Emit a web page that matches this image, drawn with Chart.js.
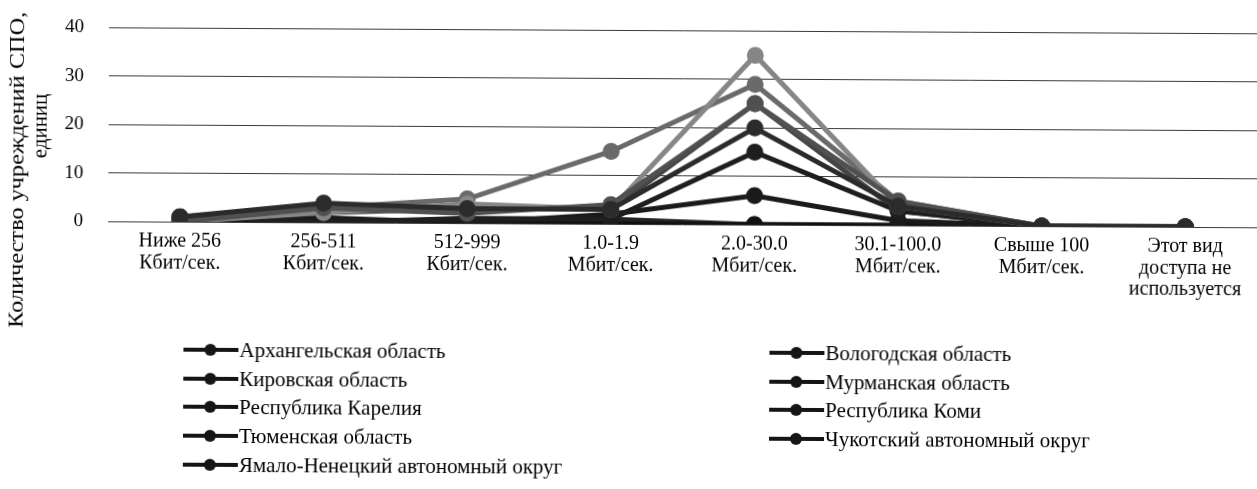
<!DOCTYPE html>
<html><head><meta charset="utf-8">
<script src="https://cdn.jsdelivr.net/npm/chart.js@4"></script>
<style>
html,body{margin:0;padding:0;background:#fff;overflow:hidden;}
#wrap{position:relative;width:1257px;height:489px;overflow:hidden;transform:rotate(0.3deg);transform-origin:628px 244px;}
#c{position:absolute;left:0;top:0;}
#legend{position:absolute;left:0;top:0;width:1257px;height:489px;pointer-events:none;font-family:"Liberation Serif","Times New Roman",serif;font-size:21px;color:#000;}
.item{position:absolute;display:flex;align-items:center;height:24px;white-space:nowrap;}
.mk{position:relative;width:55px;height:24px;flex:none;margin-right:1px;}
.mk .ln{position:absolute;left:0;right:0;top:10px;height:4px;background:#151515;}
.mk .dot{position:absolute;left:21px;top:6px;width:12px;height:12px;border-radius:50%;background:#151515;}
</style></head>
<body>
<div id="wrap"><canvas id="c" width="1268" height="489"></canvas><div id="legend"></div></div>
<script>
const categories = [
  ["Ниже 256","Кбит/сек."],
  ["256-511","Кбит/сек."],
  ["512-999","Кбит/сек."],
  ["1.0-1.9","Мбит/сек."],
  ["2.0-30.0","Мбит/сек."],
  ["30.1-100.0","Мбит/сек."],
  ["Свыше 100","Мбит/сек."],
  ["Этот вид","доступа не","используется"]
];
const yTicks = [0, 10, 20, 30, 40];
const yTitle = ["Количество учреждений СПО,", "единиц"];

const seriesNames = [
  "Архангельская область",
  "Вологодская область",
  "Кировская область",
  "Мурманская область",
  "Республика Карелия",
  "Республика Коми",
  "Тюменская область",
  "Чукотский автономный округ",
  "Ямало-Ненецкий автономный округ"
];
const arkhangelsk = [1, 4, 3, 3, 20, 4, 0, 0];
const vologda     = [0, 3, 2, 4, 25, 5, 0, 0];
const kirov       = [0, 2, 4, 3, 35, 4, 0, 0];
const murmansk    = [1, 0, 1, 1, 15, 3, 0, 0];
const karelia     = [0, 1, 0, 2, 6, 1, 0, 0];
const komi        = [1, 3, 5, 15, 29, 5, 0, 0];
const tyumen      = [0, 2, 3, 3, 25, 3, 0, 0];
const chukotka    = [0, 0, 0, 0, 0, 0, 0, 0];
const yanao       = [0, 0, 0, 1, 0, 0, 0, 0];
const seriesValues = [arkhangelsk, vologda, kirov, murmansk, karelia, komi, tyumen, chukotka, yanao];
const seriesColors = ["#2b2b2b","#505050","#868686","#1e1e1e","#1a1a1a","#6a6a6a","#444444","#111111","#222222"];

const FONT = "'Liberation Serif','Times New Roman',serif";

const datasets = seriesNames.map((name, i) => ({
  label: name,
  data: seriesValues[i],
  borderColor: seriesColors[i],
  backgroundColor: seriesColors[i],
  pointBackgroundColor: seriesColors[i],
  pointBorderColor: seriesColors[i],
  borderWidth: 5,
  pointRadius: 6,
  pointHoverRadius: 6,
  tension: 0,
  fill: false
}));

const titlePlugin = {
  id: 'ytitle',
  afterDraw(chart) {
    const ctx = chart.ctx;
    ctx.save();
    ctx.fillStyle = '#000';
    ctx.font = "21px " + FONT;
    ctx.textAlign = 'center';
    ctx.textBaseline = 'middle';
    const specs = [{ x: 17, y: 173, len: 316 }, { x: 40, y: 129, len: null }];
    yTitle.forEach((t, i) => {
      const s = specs[i];
      ctx.save();
      ctx.translate(s.x, s.y);
      ctx.rotate(-Math.PI / 2);
      if (s.len) {
        const w = ctx.measureText(t).width;
        ctx.scale(s.len / w, 1);
      }
      ctx.fillText(t, 0, 0);
      ctx.restore();
    });
    ctx.restore();
  }
};

function zeroPad(scale) {
  scale.paddingTop = 0; scale.paddingBottom = 0; scale.paddingLeft = 0; scale.paddingRight = 0;
}

const chart = new Chart(document.getElementById('c'), {
  type: 'line',
  data: { labels: categories, datasets },
  options: {
    responsive: false,
    animation: false,
    devicePixelRatio: 1,
    layout: { padding: { top: 30.5, left: 0, right: 0, bottom: 0 } },
    plugins: { legend: { display: false }, tooltip: { enabled: false } },
    scales: {
      x: {
        offset: true,
        grid: { display: false, drawTicks: false },
        border: { display: false },
        ticks: { color: '#000', font: { family: FONT, size: 20, lineHeight: 1.08 }, padding: 9, maxRotation: 0, autoSkip: false },
        afterFit(scale) { scale.height = 489 - 224; zeroPad(scale); }
      },
      y: {
        min: 0, max: 40,
        afterBuildTicks(scale) { scale.ticks = yTicks.map(v => ({ value: v })); },
        grid: { color: '#3a3a3a', lineWidth: 1, drawTicks: false },
        border: { display: false },
        ticks: { color: '#000', font: { family: FONT, size: 19 }, padding: 25 },
        afterFit(scale) { scale.width = 108; zeroPad(scale); }
      }
    }
  },
  plugins: [titlePlugin]
});

const legend = document.getElementById('legend');
const colX = [184, 770];
const rowY = [352, 381, 409, 438, 467];
chart.data.datasets.forEach((ds, i) => {
  const col = i % 2, row = Math.floor(i / 2);
  const it = document.createElement('div');
  it.className = 'item';
  it.style.left = colX[col] + 'px';
  it.style.top = (rowY[row] - 12) + 'px';
  const mk = document.createElement('div');
  mk.className = 'mk';
  mk.innerHTML = '<div class="ln"></div><div class="dot"></div>';
  const tx = document.createElement('span');
  tx.textContent = ds.label;
  it.appendChild(mk);
  it.appendChild(tx);
  legend.appendChild(it);
});
</script>
</body></html>
